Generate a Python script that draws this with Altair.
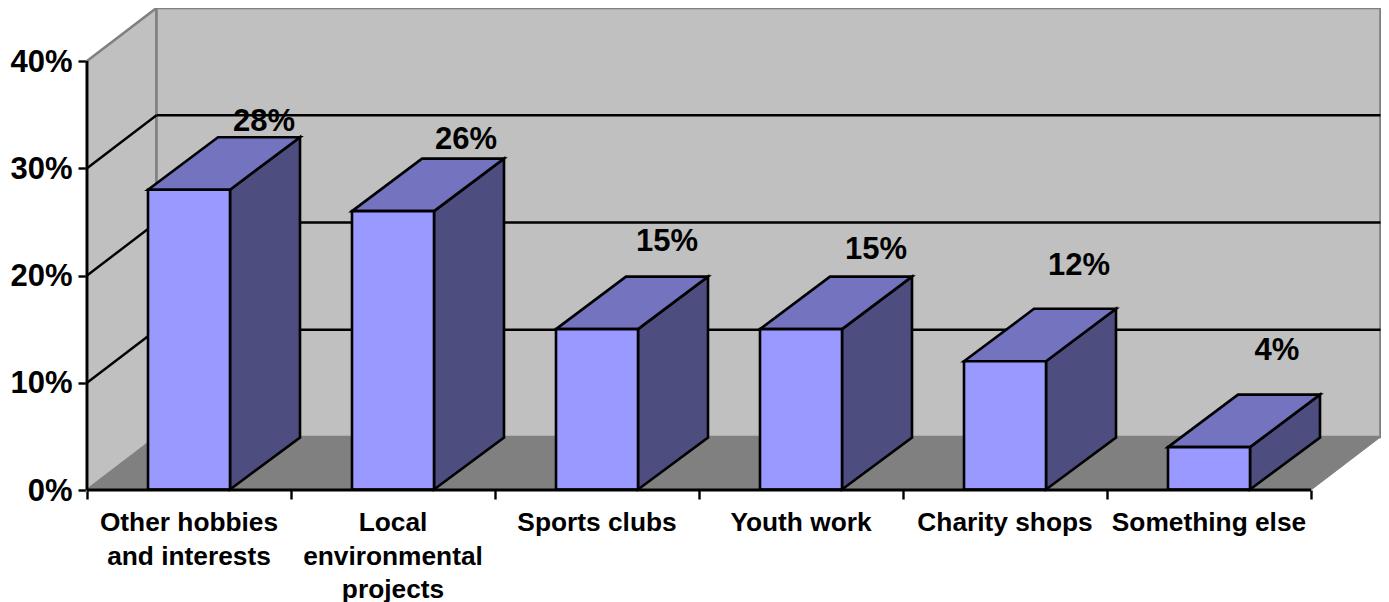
import altair as alt
import pandas as pd

# ---- chart values ----
categories = [
    ["Other hobbies", "and interests"],
    ["Local", "environmental", "projects"],
    ["Sports clubs"],
    ["Youth work"],
    ["Charity shops"],
    ["Something else"],
]
values = [28, 26, 15, 15, 12, 4]
value_labels = ["28%", "26%", "15%", "15%", "12%", "4%"]
y_ticks = [0, 10, 20, 30, 40]
grid_values = [10, 20, 30]
x_ticks = [0, 1, 2, 3, 4, 5, 6]

# ---- oblique projection, in data units (one category, one percent) ----
PX_PER_CAT = 204.0
PX_PER_PCT = 10.725
DX = 69.5 / PX_PER_CAT      # depth shift to the right
DY = 53.0 / PX_PER_PCT      # depth shift upward
BAR_START = 61 / PX_PER_CAT
BAR_W = 82 / PX_PER_CAT
BAR_DX = 70 / PX_PER_CAT
BAR_DY = 52.5 / PX_PER_PCT
N = len(values)
TOP = 40
BAR_BASE = 0.05

W_PX, H_PX = 1294, 482
x_scale = alt.Scale(domain=[0, W_PX / PX_PER_CAT], range=[0, W_PX], nice=False, zero=False)
y_scale = alt.Scale(domain=[0, H_PX / PX_PER_PCT], range=[H_PX, 0], nice=False, zero=False)
FONT = "Liberation Sans"


def X(field="x", axis=None):
    return alt.X(f"{field}:Q", scale=x_scale, axis=axis, title=None)


def Y(field="y", axis=None):
    return alt.Y(f"{field}:Q", scale=y_scale, axis=axis, title=None)


def area_layer(rows, fill, stroke, width=2.6):
    df = pd.DataFrame(rows, columns=["id", "x", "y", "y2"])
    return alt.Chart(df).mark_area(
        fill=fill, stroke=stroke, strokeWidth=width, opacity=1, clip=False, strokeJoin="miter"
    ).encode(x=X(), y=Y(), y2="y2:Q", detail="id:N")


# walls and floor
left_wall = [("l", 0, TOP, 0), ("l", DX, TOP + DY, DY)]
back_wall = [("b", DX, TOP + DY, DY), ("b", N + DX, TOP + DY, DY)]
floor = [
    ("f", 0, 0, 0),
    ("f", DX, DY, 0),
    ("f", N, DY, 0),
    ("f", N + DX, DY, DY),
]

# gridlines on both walls
grid_rows = []
for v in grid_values:
    grid_rows += [(f"s{v}", 0, v), (f"s{v}", DX, v + DY), (f"b{v}", DX, v + DY), (f"b{v}", N + DX, v + DY)]
grid = alt.Chart(pd.DataFrame(grid_rows, columns=["id", "x", "y"])).mark_line(
    color="#000000", strokeWidth=2.4
).encode(x=X(), y=Y(), detail="id:N")

# bars
front, side, top = [], [], []
for i, v in enumerate(values):
    x0 = i + BAR_START
    x1 = x0 + BAR_W
    front += [(i, x0, v, BAR_BASE), (i, x1, v, BAR_BASE)]
    side += [(i, x1, v, BAR_BASE), (i, x1 + BAR_DX, v + BAR_DY, BAR_DY)]
    top += [
        (i, x0, v, v),
        (i, x0 + BAR_DX, v + BAR_DY, v),
        (i, x1, v + BAR_DY, v),
        (i, x1 + BAR_DX, v + BAR_DY, v + BAR_DY),
    ]

# axis lines
axis_rows = [("y", 0, 0), ("y", 0, TOP), ("x", 0, 0), ("x", N, 0)]
axis_lines = alt.Chart(pd.DataFrame(axis_rows, columns=["id", "x", "y"])).mark_line(
    color="#000000", strokeWidth=2.8
).encode(x=X(), y=Y(), detail="id:N")

# axes (ticks and value labels)
axes = alt.Chart(pd.DataFrame({"x": [0.0], "y": [0.0]})).mark_point(opacity=0).encode(
    x=X(axis=alt.Axis(values=x_ticks, labels=False, domain=False, grid=False,
                      ticks=True, tickSize=9, tickWidth=2.4, tickColor="#000000")),
    y=Y(axis=alt.Axis(values=y_ticks, labelExpr="datum.value + '%'",
                      domain=False, grid=False, ticks=True, tickSize=9, tickWidth=2.4,
                      tickColor="#000000", labelFont=FONT, labelFontSize=31,
                      labelFontWeight="bold", labelColor="#000000", labelPadding=6,
                      labelOffset=1)),
)

# category labels, one row per text line
cat_rows = []
for i, lines in enumerate(categories):
    for j, line in enumerate(lines):
        cat_rows.append({"x": i + 0.5, "y": -(33 + 33.5 * j) / PX_PER_PCT, "t": line})
cat_text = alt.Chart(pd.DataFrame(cat_rows)).mark_text(
    font=FONT, fontSize=26.3, fontWeight="bold", color="#000000", align="center", baseline="middle"
).encode(x=X(), y=Y(), text="t:N")

# value labels, each placed above its bar as in the picture
nudge_x = [75, 73, 70, 75, 74, 68]
nudge_y = [68, 71, 87, 79, 95, 96]
lab_rows = [
    {
        "x": i + BAR_START + (BAR_W / 2) + nudge_x[i] / PX_PER_CAT,
        "y": values[i] + nudge_y[i] / PX_PER_PCT,
        "t": value_labels[i],
    }
    for i in range(N)
]
lab_text = alt.Chart(pd.DataFrame(lab_rows)).mark_text(
    font=FONT, fontSize=31, fontWeight="bold", color="#000000", align="center", baseline="middle"
).encode(x=X(), y=Y(), text="t:N")

chart = alt.layer(
    area_layer(left_wall, "#C0C0C0", "#808080"),
    area_layer(back_wall, "#C0C0C0", "#808080"),
    area_layer(floor, "#808080", "#808080", 1),
    grid,
    area_layer(side, "#4D4D80", "#000000"),
    area_layer(top, "#7373BF", "#000000"),
    area_layer(front, "#9999FF", "#000000"),
    axis_lines,
    axes,
    cat_text,
    lab_text,
).resolve_axis(x="independent", y="independent").properties(
    width=W_PX,
    height=H_PX,
    padding={"left": 79, "top": 0, "right": 0, "bottom": 112},
    autosize=alt.AutoSizeParams(type="none"),
    background="#FFFFFF",
).configure_view(stroke=None)

chart.save("out.html", embed_options={"renderer": "svg", "actions": False})
